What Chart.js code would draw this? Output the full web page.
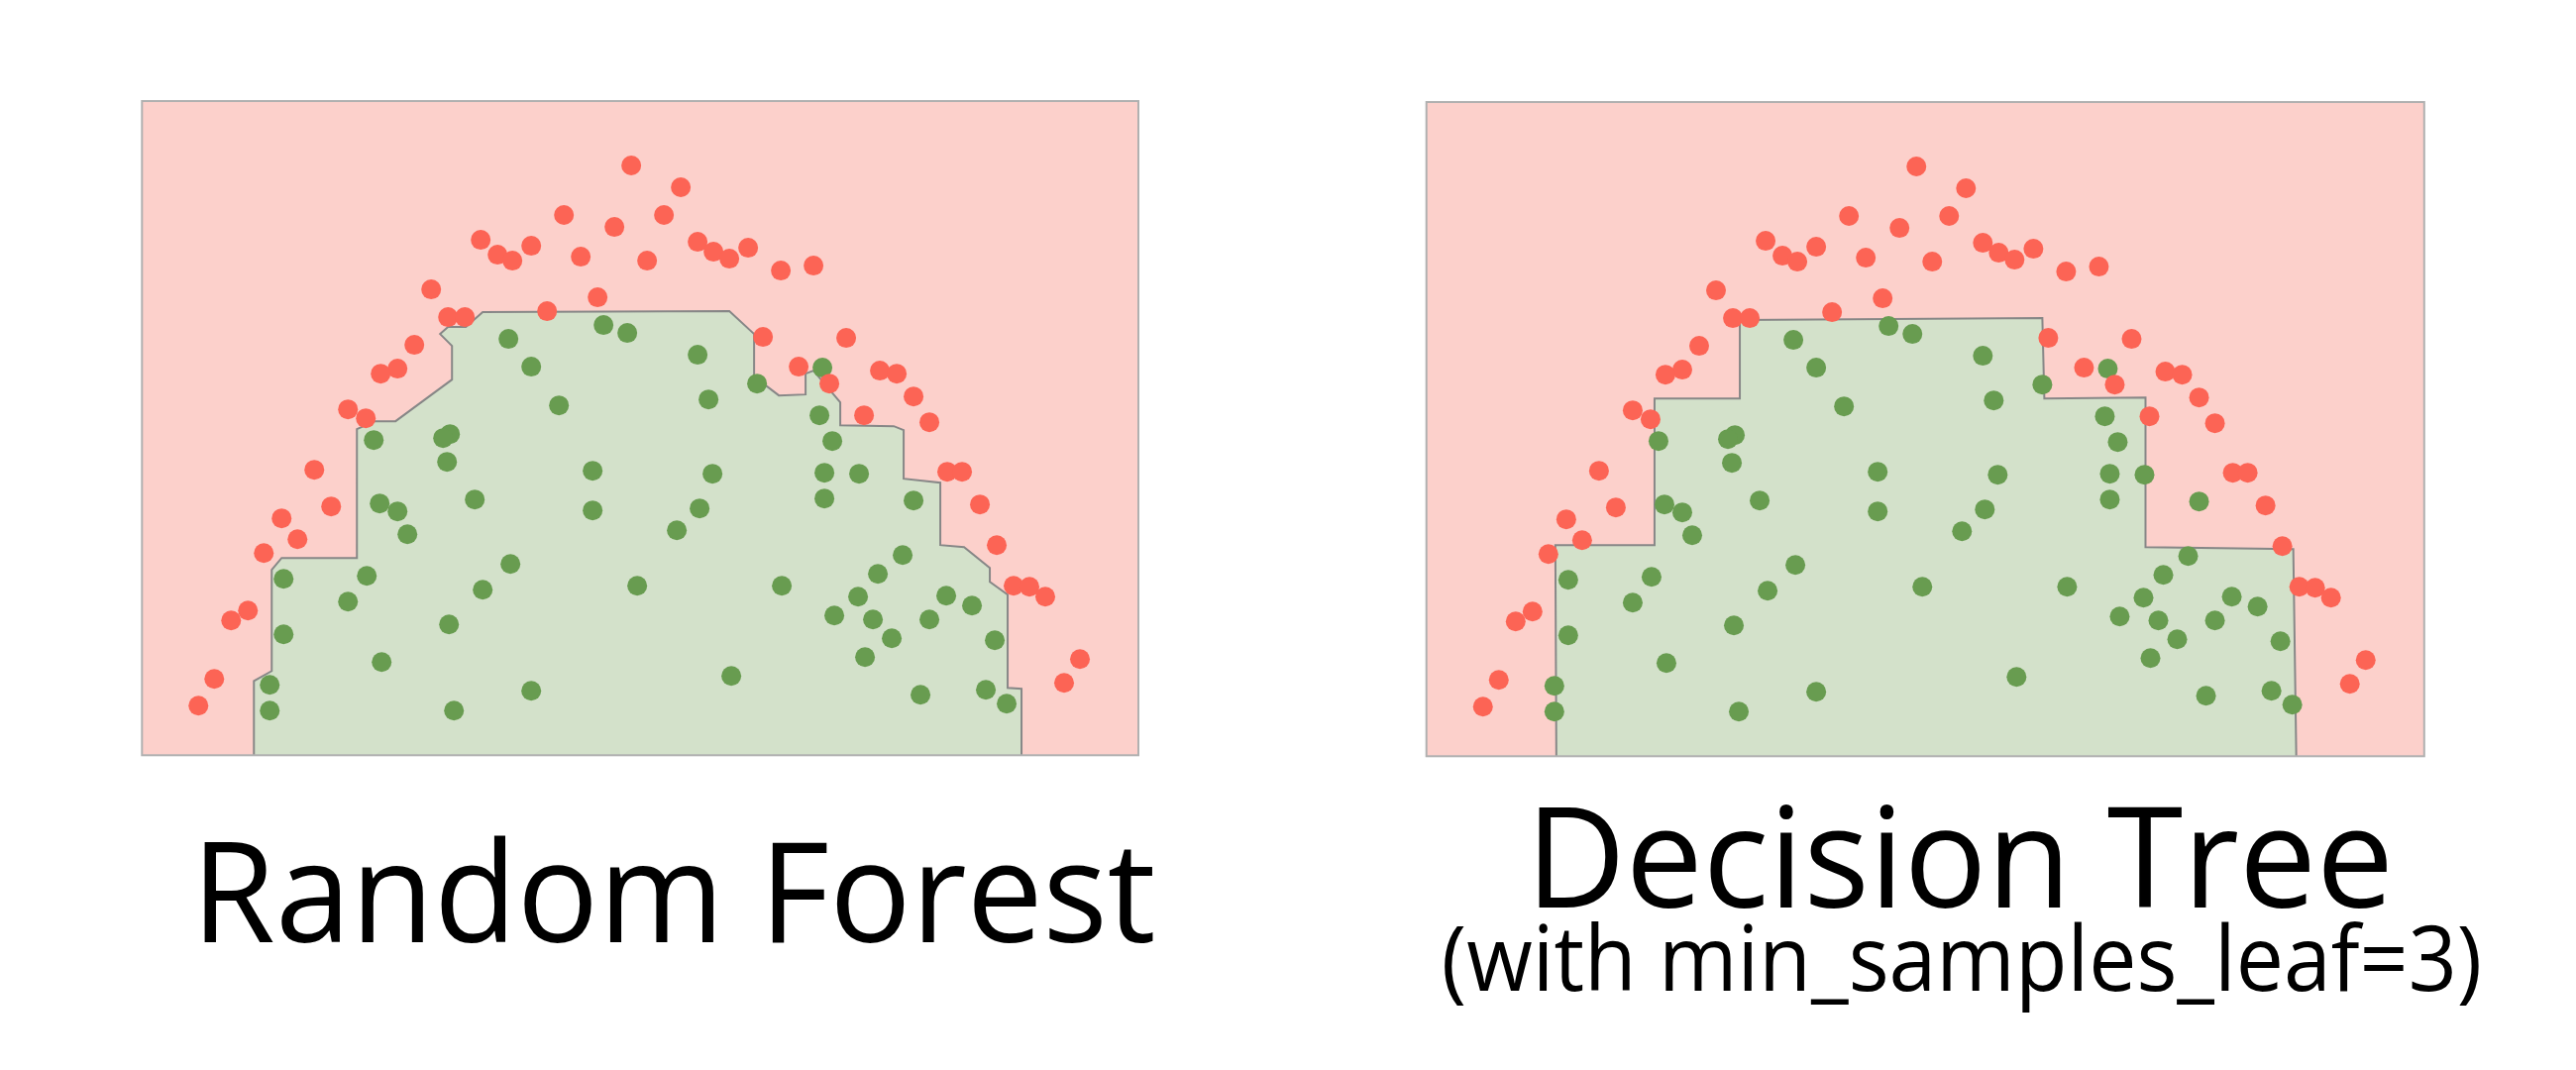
<!DOCTYPE html>
<html>
<head>
<meta charset="utf-8">
<title>Random Forest vs Decision Tree</title>
<script src="https://cdn.jsdelivr.net/npm/chart.js@4.4.1/dist/chart.umd.min.js"></script>
<style>
  html, body { margin: 0; padding: 0; background: #fff; }
  body { width: 2600px; height: 1080px; position: relative; overflow: hidden; font-family: 'Open Sans', sans-serif; }
  canvas { position: absolute; top: 0; }
  #rfChart { left: 0; }
  #dtChart { left: 1300px; }
  .caption { position: absolute; text-align: center; color: #000; line-height: 1; white-space: nowrap; font-weight: 400; }
  #rfTitle { left: 30px; width: 1300px; top: 826px; font-size: 141.5px; transform: scaleX(0.968); }
  #dtTitle { left: 1378px; width: 1200px; top: 791px; font-size: 141.5px; transform: scaleX(0.982); }
  #dtSub { left: 1380px; width: 1200px; top: 919px; font-size: 92px; transform: scaleX(0.934); }
</style>
</head>
<body>
<canvas id="rfChart" width="1300" height="800"></canvas>
<canvas id="dtChart" width="1300" height="800"></canvas>
<div class="caption" id="rfTitle"></div>
<div class="caption" id="dtTitle"></div>
<div class="caption" id="dtSub"></div>
<script>
// Captions
const rfTitle = 'Random Forest';
const dtTitle = 'Decision Tree';
const dtSubtitle = '(with min_samples_leaf=3)';

// Class 0 samples (red) - same data in both panels
const redX = [4.94, 5.44, 4.26, 5.27, 4.77, 3.42, 5.61, 3.93, 6.12, 5.77, 3.59, 4.43, 5.93, 3.74, 5.10, 6.78, 6.45, 2.92,
              4.60, 4.09, 3.09, 3.26, 6.27, 7.11, 2.75, 6.63, 2.58, 2.41, 7.45, 7.62, 6.94, 7.79, 2.08, 7.29, 2.26, 7.95,
              1.74, 8.13, 8.28, 8.46, 1.91, 1.41, 1.57, 8.63, 1.23, 8.80, 8.96, 9.12, 1.07, 0.90, 9.47, 0.73, 9.31, 0.57];
const redY = [5.95, 5.73, 5.45, 5.45, 5.33, 5.20, 5.18, 5.14, 5.12, 5.08, 5.05, 5.03, 5.01, 4.99, 4.99, 4.94, 4.89, 4.70,
              4.62, 4.48, 4.42, 4.42, 4.22, 4.21, 4.14, 3.92, 3.90, 3.85, 3.88, 3.85, 3.75, 3.62, 3.49, 3.43, 3.40, 3.36,
              2.88, 2.86, 2.86, 2.53, 2.51, 2.39, 2.18, 2.12, 2.04, 1.71, 1.70, 1.60, 1.46, 1.36, 0.97, 0.77, 0.73, 0.50];

// Class 1 samples (green)
const greenX = [4.66, 4.90, 3.70, 3.93, 4.21, 5.61, 6.21, 5.72, 6.87, 6.84, 3.11, 3.04, 2.34, 3.08, 4.55, 3.36, 2.40, 4.55,
                2.58, 2.68, 3.72, 2.27, 1.43, 5.00, 3.44, 2.08, 3.10, 1.43, 2.42, 1.29, 3.93, 1.29, 3.15, 6.97, 5.76, 6.89,
                7.24, 6.89, 7.79, 5.63, 5.40, 7.68, 7.43, 6.46, 7.23, 8.12, 8.38, 6.99, 7.38, 7.95, 7.57, 8.61, 7.30, 5.95,
                7.86, 8.52, 8.73];
const greenY = [4.34, 4.26, 4.20, 3.92, 3.53, 4.04, 3.75, 3.59, 3.91, 3.43, 3.24, 3.20, 3.18, 2.96, 2.87, 2.58, 2.54, 2.47,
                2.46, 2.23, 1.93, 1.81, 1.78, 1.71, 1.67, 1.55, 1.32, 1.22, 0.94, 0.71, 0.65, 0.45, 0.45, 3.17, 2.84, 2.85,
                2.84, 2.59, 2.57, 2.49, 2.27, 2.02, 1.83, 1.71, 1.60, 1.61, 1.51, 1.41, 1.37, 1.37, 1.18, 1.16, 0.99, 0.80,
                0.61, 0.66, 0.52];

// Decision boundary of the random forest (edge of the green region)
const rfEdgeX = [1.13, 1.13, 1.31, 1.31, 1.41, 2.17, 2.17, 2.35, 2.56, 3.13, 3.13, 3.01, 3.09, 3.27, 3.44, 5.93, 6.18, 6.18,
                 6.43, 6.70, 6.70, 6.78, 7.05, 7.05, 7.59, 7.69, 7.69, 8.06, 8.06, 8.30, 8.56, 8.56, 8.74, 8.74, 8.88, 8.88];
const rfEdgeY = [0.00, 0.75, 0.85, 1.87, 1.99, 1.99, 3.29, 3.37, 3.37, 3.79, 4.13, 4.25, 4.32, 4.32, 4.47, 4.48, 4.25, 3.82,
                 3.63, 3.64, 3.85, 3.88, 3.56, 3.33, 3.32, 3.28, 2.79, 2.75, 2.12, 2.10, 1.89, 1.75, 1.62, 0.68, 0.67, 0.00];

// Decision boundary of the single tree
const dtEdgeX = [1.31, 1.30, 2.30, 2.30, 3.16, 3.16, 6.21, 6.23, 7.25, 7.25, 8.74, 8.77];
const dtEdgeY = [0.00, 2.13, 2.13, 3.61, 3.61, 4.40, 4.42, 3.61, 3.62, 2.11, 2.09, 0.00];

const X_MAX = 10.06;
const Y_MAX = 6.6;

const RED = '#fc6455';
const GREEN = '#689c50';
const RED_AREA = '#fcd0cb';
const GREEN_AREA = '#d3e1ca';
const EDGE = '#878787';
const FRAME = '#b0b0b0';

function toPoints(xs, ys) {
    return xs.map((x, i) => ({ x: x, y: ys[i] }));
}

// Pink panel background and grey frame round the plot area
const panelFrame = {
    id: 'panelFrame',
    beforeDatasetsDraw(chart) {
        const { ctx, chartArea: a } = chart;
        ctx.save();
        ctx.fillStyle = RED_AREA;
        ctx.fillRect(a.left, a.top, a.right - a.left, a.bottom - a.top);
        ctx.restore();
    },
    afterDatasetsDraw(chart) {
        const { ctx, chartArea: a } = chart;
        ctx.save();
        ctx.strokeStyle = FRAME;
        ctx.lineWidth = 2;
        ctx.strokeRect(a.left, a.top, a.right - a.left, a.bottom - a.top);
        ctx.restore();
    }
};

function createPanel(canvasId, edgeX, edgeY, padding) {
    const ctx = document.getElementById(canvasId);
    return new Chart(ctx, {
        type: 'scatter',
        data: {
            datasets: [{
                label: 'class 0',
                data: toPoints(redX, redY),
                backgroundColor: RED,
                borderWidth: 0,
                pointRadius: 10,
                order: 0
            }, {
                label: 'class 1',
                data: toPoints(greenX, greenY),
                backgroundColor: GREEN,
                borderWidth: 0,
                pointRadius: 10,
                order: 0
            }, {
                type: 'line',
                label: 'region',
                data: toPoints(edgeX, edgeY),
                borderColor: EDGE,
                borderWidth: 2,
                backgroundColor: GREEN_AREA,
                fill: 'origin',
                pointRadius: 0,
                tension: 0,
                order: 1
            }]
        },
        options: {
            responsive: false,
            animation: false,
            events: [],
            layout: { padding: padding },
            scales: {
                x: { type: 'linear', min: 0, max: X_MAX, display: false },
                y: { type: 'linear', min: 0, max: Y_MAX, display: false }
            },
            plugins: {
                legend: { display: false },
                tooltip: { enabled: false },
                title: { display: false }
            }
        },
        plugins: [panelFrame]
    });
}

document.getElementById('rfTitle').textContent = rfTitle;
document.getElementById('dtTitle').textContent = dtTitle;
document.getElementById('dtSub').textContent = dtSubtitle;

createPanel('rfChart', rfEdgeX, rfEdgeY, { left: 143.3, top: 102, right: 151, bottom: 37.7 });
createPanel('dtChart', dtEdgeX, dtEdgeY, { left: 139.7, top: 103, right: 153.2, bottom: 36.7 });
</script>
</body>
</html>
